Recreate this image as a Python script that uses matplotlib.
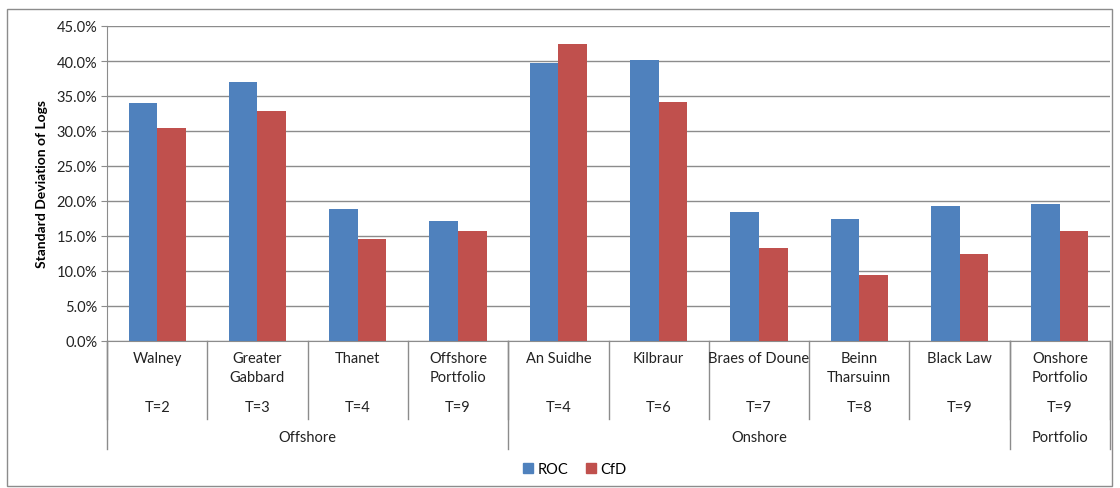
import matplotlib
matplotlib.use('Agg')
import matplotlib.pyplot as plt
from matplotlib.patches import Rectangle, Patch
import numpy as np

plt.rcParams['font.family'] = ['Lato', 'DejaVu Sans']

# data
sites = ['Walney', 'Greater\nGabbard', 'Thanet', 'Offshore\nPortfolio', 'An Suidhe',
         'Kilbraur', 'Braes of Doune', 'Beinn\nTharsuinn', 'Black Law', 'Onshore\nPortfolio']
periods = ['T=2', 'T=3', 'T=4', 'T=9', 'T=4', 'T=6', 'T=7', 'T=8', 'T=9', 'T=9']
groups = ['Offshore', 'Onshore', 'Portfolio']
group_sizes = [4, 5, 1]
roc = [34.0, 37.0, 18.8, 17.1, 39.7, 40.1, 18.5, 17.4, 19.3, 19.6]
cfd = [30.5, 32.8, 14.6, 15.7, 42.4, 34.2, 13.3, 9.4, 12.5, 15.7]

fig = plt.figure(figsize=(11.2, 4.89), dpi=100)
ax = fig.add_axes([107/1120, 1-342/489, (1110-107)/1120, 315/489])

x = np.arange(len(sites))
w = 0.285
ax.bar(x - w/2, roc, w, color='#4F81BD', label='ROC', zorder=3)
ax.bar(x + w/2, cfd, w, color='#C0504D', label='CfD', zorder=3)

ax.set_xlim(-0.5, len(sites) - 0.5)
ax.set_ylim(0, 45)
ax.set_yticks(np.arange(0, 46, 5))
ax.set_yticklabels(['%.1f%%' % v for v in np.arange(0, 46, 5)], fontsize=10.5, color='#222222')
ax.yaxis.grid(True, color='#8c8c8c', lw=1, zorder=0)
ax.set_xticks([])
ax.tick_params(axis='y', length=4, color='#8c8c8c', pad=3)
for s in ['top', 'right']:
    ax.spines[s].set_visible(False)
for s in ['left', 'bottom']:
    ax.spines[s].set_color('#8c8c8c')
ax.set_ylabel('Standard Deviation of Logs', fontsize=10, fontweight='bold', labelpad=6)

# category table below axis
tr = ax.get_xaxis_transform()
for i in range(len(sites) + 1):
    ax.plot([i - 0.5, i - 0.5], [0, -78/315], transform=tr, color='#8c8c8c', lw=1, clip_on=False)
bounds = np.concatenate([[0], np.cumsum(group_sizes)])
for b in bounds:
    ax.plot([b - 0.5, b - 0.5], [0, -108/315], transform=tr, color='#8c8c8c', lw=1, clip_on=False)
for i in range(len(sites)):
    ax.text(i, -10/315, sites[i], transform=tr, ha='center', va='top', fontsize=10.5,
            color='#222222', linespacing=1.45)
    ax.text(i, -66/315, periods[i], transform=tr, ha='center', va='center', fontsize=10.5, color='#222222')
for g in range(len(groups)):
    mid = (bounds[g] + bounds[g+1] - 1) / 2
    ax.text(mid, -96/315, groups[g], transform=tr, ha='center', va='center', fontsize=10.5, color='#222222')

handles = [Patch(color='#4F81BD', label='ROC'), Patch(color='#C0504D', label='CfD')]
fig.legend(handles=handles, loc='center', bbox_to_anchor=(575/1120, 1-470/489), ncol=2,
           frameon=False, fontsize=10.5, handlelength=0.7, handleheight=0.7, handletextpad=0.3,
           columnspacing=1.2)

fig.patches.append(Rectangle((7/1120, 2/489), 1105/1120, 477/489, transform=fig.transFigure,
                             fill=False, edgecolor='#8c8c8c', lw=1))

fig.savefig('out.png', dpi=100)
